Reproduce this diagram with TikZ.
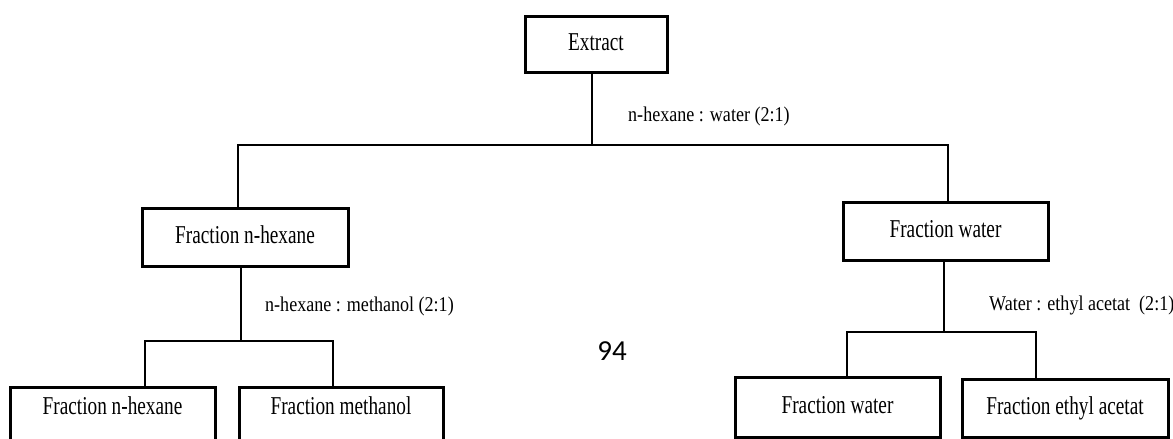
\documentclass[tikz,border=0pt]{standalone}
\usepackage{fontspec}
\setmainfont{Liberation Serif}[FakeStretch=0.75]
\newfontfamily\ratiofont{Liberation Serif}[FakeStretch=0.86]
\newfontfamily\pagefont{Carlito}
\usetikzlibrary{calc}
\tikzset{
  frbox/.style={draw,line width=3pt,inner sep=0pt,minimum width=205pt,minimum height=58pt,
    text height=17pt,text depth=4pt,font=\fontsize{25.7}{30}\selectfont},
  cutbox/.style={frbox,minimum height=60pt,text height=18pt,text depth=24pt},
  split/.style={line width=2.6pt},
  ratio/.style={anchor=base west,inner sep=0pt,font=\ratiofont\fontsize{21}{25}\selectfont}
}

\begin{document}
\begin{tikzpicture}[x=1pt,y=-1pt]
\useasboundingbox (0,0) rectangle (1173,439);
\clip (0,0) rectangle (1173,439);
% boxes
\node[frbox,minimum width=142pt,minimum height=56pt] (ext) at (596,44) {Extract};
\node[frbox,minimum width=206pt] (hexane) at (245,237) {Fraction n-hexane};
\node[frbox] (water) at (945.5,231) {Fraction water};
\node[cutbox] (hexaneB) at (112.5,417) {Fraction n-hexane};
\node[cutbox,minimum width=204pt] (methanol) at (341,417) {Fraction methanol};
\node[frbox,minimum height=60pt] (waterB) at (837.5,407) {Fraction water};
\node[frbox,minimum width=206pt] (ethyl) at (1065,408) {Fraction ethyl acetat};
% junctions
\coordinate (top) at (592,145);
\coordinate (topL) at (238,145);
\coordinate (topR) at (948,145);
\coordinate (hexS) at (241,341);
\coordinate (hexL) at (145,341);
\coordinate (hexR) at (333,341);
\coordinate (watS) at (944,332);
\coordinate (watL) at (847,332);
\coordinate (watR) at (1036,332);
% first split
\draw[split] (ext.south -| top) -- (top);
\draw[split] (hexane.north -| topL) |- (topR) -- (water.north -| topR);
\node[ratio] (r1) at (628,121.7) {n-hexane : water (2:1)};
% n-hexane split
\draw[split] (hexane.south -| hexS) -- (hexS);
\draw[split] (hexaneB.north -| hexL) |- (hexR) -- (methanol.north -| hexR);
\node[ratio] (r2) at (265,311.7) {n-hexane : methanol (2:1)};
% water split
\draw[split] (water.south -| watS) -- (watS);
\draw[split] (waterB.north -| watL) |- (watR) -- (ethyl.north -| watR);
\node[ratio] (r3) at (989,310.7) {Water : ethyl acetat\ \ (2:1)};
\node[font=\pagefont\fontsize{29}{32}\selectfont,inner sep=0pt] (page) at (612,351) {94};
\end{tikzpicture}
\end{document}
